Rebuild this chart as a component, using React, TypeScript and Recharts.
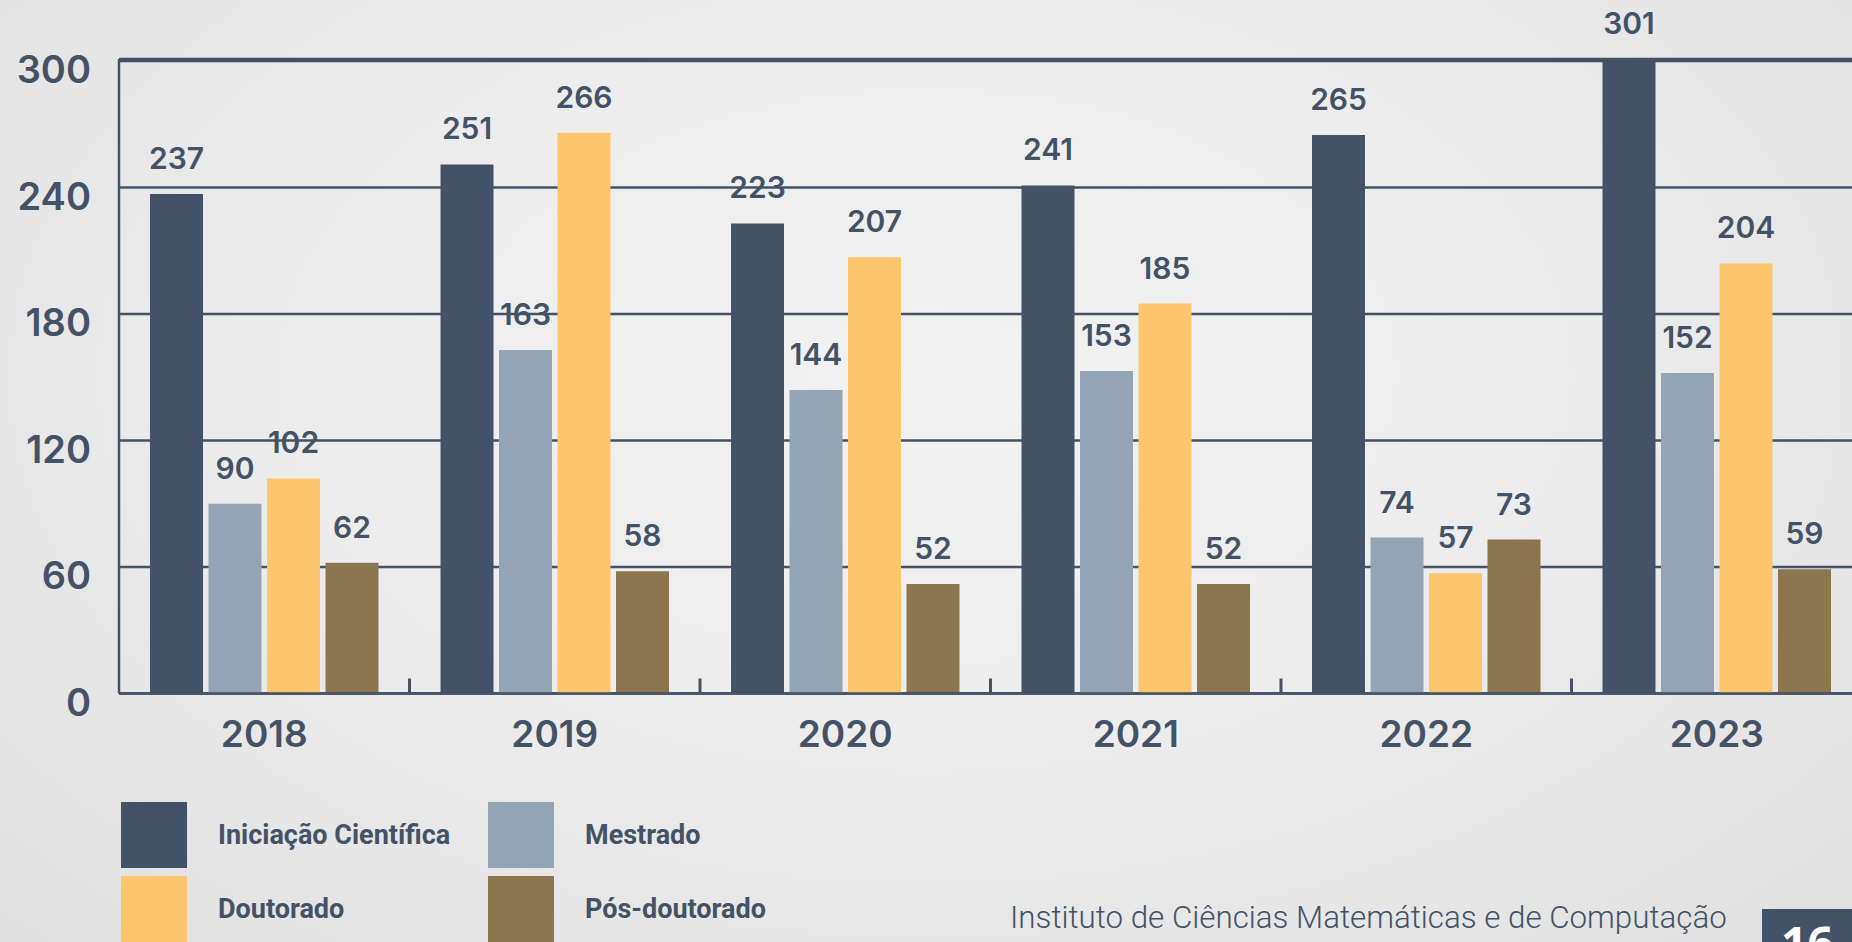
import React from "react";
import { BarChart, Bar, XAxis, YAxis, CartesianGrid, LabelList } from "recharts";

const years = ["2018", "2019", "2020", "2021", "2022", "2023"];
const iniciacao = [237, 251, 223, 241, 265, 301];
const mestrado = [90, 163, 144, 153, 74, 152];
const doutorado = [102, 266, 207, 185, 57, 204];
const posDoutorado = [62, 58, 52, 52, 73, 59];
const yTicks = [0, 60, 120, 180, 240, 300];

const INK = "#435266";
const NUM_FONT = "Inter, 'Open Sans', sans-serif";

const series = [
  { key: "ic", name: "Iniciação Científica", color: "#435266", values: iniciacao },
  { key: "mest", name: "Mestrado", color: "#93a4b4", values: mestrado },
  { key: "dout", name: "Doutorado", color: "#fdc66c", values: doutorado },
  { key: "pos", name: "Pós-doutorado", color: "#8b7650", values: posDoutorado },
];

const data = years.map((year, i) => {
  const row: Record<string, string | number> = { year };
  series.forEach((s) => {
    row[s.key] = s.values[i];
  });
  return row;
});

const YTick = (props: any) => {
  const { x, y, payload } = props;
  return (
    <text
      x={x}
      y={y + 22}
      textAnchor="end"
      fill={INK}
      fontSize={38}
      fontWeight={600}
      fontFamily={NUM_FONT}
    >
      {payload.value}
    </text>
  );
};

// year label + small upward mark on the boundary to the next year
const XTick = (props: any) => {
  const { x, y, payload, index, width, visibleTicksCount } = props;
  const half = width / visibleTicksCount / 2;
  const last = index === visibleTicksCount - 1;
  return (
    <g>
      {!last && (
        <line x1={x + half} x2={x + half} y1={y - 15} y2={y} stroke={INK} strokeWidth={3} />
      )}
      <text
        x={x}
        y={y + 53}
        textAnchor="middle"
        fill={INK}
        fontSize={37}
        fontWeight={600}
        fontFamily={NUM_FONT}
      >
        {payload.value}
      </text>
    </g>
  );
};

const Legend = () => (
  <div
    style={{
      position: "absolute",
      left: 121,
      top: 802,
      display: "grid",
      gridTemplateColumns: "367px 367px",
      rowGap: 8,
    }}
  >
    {series.map((s) => (
      <div key={s.key} style={{ display: "flex", alignItems: "center", height: 66 }}>
        <div style={{ width: 66, height: 66, background: s.color, flex: "none" }} />
        <span
          style={{
            marginLeft: 31,
            fontFamily: "Roboto, sans-serif",
            fontWeight: 700,
            fontSize: 27,
            color: INK,
            whiteSpace: "nowrap",
          }}
        >
          {s.name}
        </span>
      </div>
    ))}
  </div>
);

export default function App() {
  return (
    <div
      style={{
        position: "absolute",
        left: 0,
        top: 0,
        width: 1852,
        height: 942,
        overflow: "hidden",
        background:
          "radial-gradient(ellipse at 50% 40%, #f2f2f2 0%, #ececec 50%, #e0e0e0 100%)",
      }}
    >
      <BarChart
        width={1862}
        height={942}
        data={data}
        margin={{ top: 59, right: 0, left: 0, bottom: 188.5 }}
        barSize={53}
        barGap={5.5}
      >
        <CartesianGrid vertical={false} stroke={INK} strokeWidth={2.5} />
        <XAxis
          dataKey="year"
          height={60}
          axisLine={{ stroke: INK, strokeWidth: 2.5 }}
          tickLine={false}
          tickSize={0}
          tickMargin={0}
          interval={0}
          tick={<XTick />}
        />
        <YAxis
          width={119}
          domain={[0, 300]}
          ticks={yTicks}
          interval={0}
          axisLine={{ stroke: INK, strokeWidth: 2.5 }}
          tickLine={false}
          tickSize={0}
          tickMargin={28}
          tick={<YTick />}
        />
        {series.map((s) => (
          <Bar key={s.key} dataKey={s.key} name={s.name} fill={s.color} isAnimationActive={false}>
            <LabelList
              dataKey={s.key}
              position="top"
              offset={25}
              fill={INK}
              fontSize={30}
              fontWeight={600}
              fontFamily={NUM_FONT}
            />
          </Bar>
        ))}
      </BarChart>
      <Legend />
      <div
        style={{
          position: "absolute",
          left: 1010,
          top: 901,
          lineHeight: "34px",
          fontFamily: "Roboto, sans-serif",
          fontWeight: 300,
          fontSize: 31.3,
          color: INK,
          whiteSpace: "nowrap",
        }}
      >
        Instituto de Ciências Matemáticas e de Computação
      </div>
      <div
        style={{
          position: "absolute",
          left: 1762,
          top: 909,
          width: 100,
          height: 40,
          background: INK,
          overflow: "hidden",
        }}
      >
        <div
          style={{
            position: "absolute",
            left: 19,
            top: 10,
            fontFamily: "'Open Sans', sans-serif",
            fontWeight: 700,
            fontSize: 46,
            lineHeight: "46px",
            color: "#ffffff",
          }}
        >
          16
        </div>
      </div>
    </div>
  );
}
